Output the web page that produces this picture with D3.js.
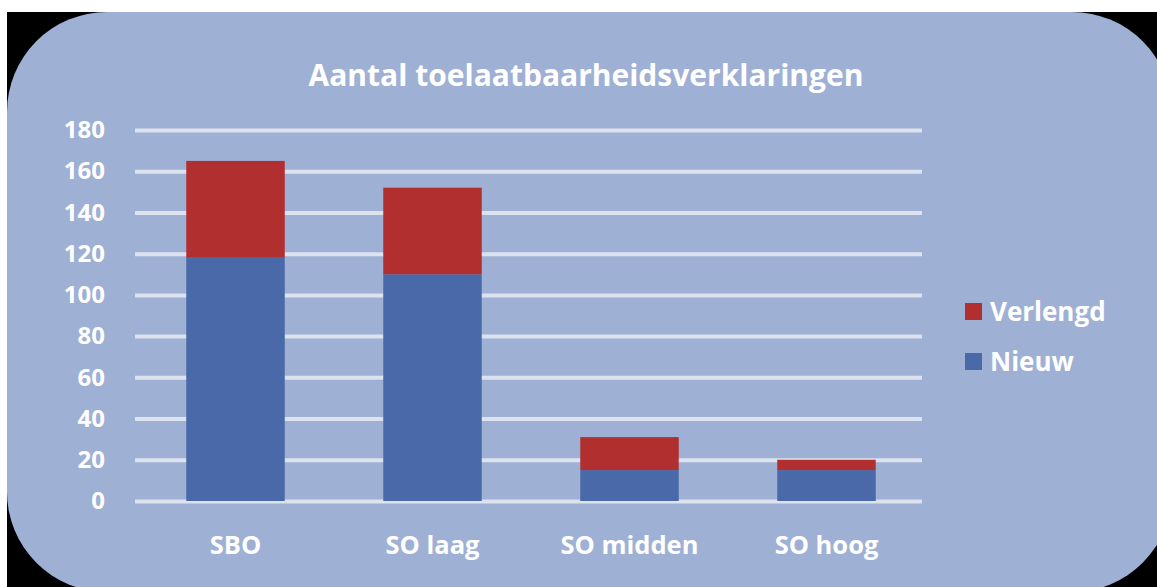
<!DOCTYPE html>
<html><head><meta charset="utf-8">
<script src="https://cdn.jsdelivr.net/npm/d3@7"></script>
<style>html,body{margin:0;padding:0;background:#fff;overflow:hidden}</style>
</head><body>
<svg id="chart" width="1157" height="587"></svg>
<script>
const categories = ["SBO", "SO laag", "SO midden", "SO hoog"];
const nieuw = [118, 110, 15, 15];
const verlengd = [47, 42, 16, 5];
const seriesNames = ["Nieuw", "Verlengd"];
const yTicks = [0, 20, 40, 60, 80, 100, 120, 140, 160, 180];
const title = "Aantal toelaatbaarheidsverklaringen";

const colors = {Nieuw: "#4a69a8", Verlengd: "#b22f30"};
const bg = "#9fb0d5";
const font = "'Open Sans', 'DejaVu Sans', sans-serif";

const svg = d3.select("#chart");
svg.append("rect").attr("x", 7).attr("y", 12).attr("width", 1150).attr("height", 575).attr("fill", "#000");
svg.append("rect").attr("x", 7).attr("y", 12).attr("width", 1165).attr("height", 580)
  .attr("rx", 100).attr("ry", 100).attr("fill", bg);

const x = d3.scaleBand().domain(categories).range([137, 925]).paddingInner(0.5).paddingOuter(0.25);
const y = d3.scaleLinear().domain([0, 180]).range([501, 130]);

// gridlines
const yAxis = d3.axisLeft(y).tickValues(yTicks).tickSize(-(922 - 135)).tickFormat(d => d);
const ga = svg.append("g").attr("transform", "translate(135,0)").call(yAxis);
ga.select(".domain").remove();
ga.selectAll(".tick line").attr("stroke", "#dce2ee").attr("stroke-width", 4);
ga.selectAll(".tick text").attr("x", -30).attr("fill", "#fff")
  .attr("font-family", font).attr("font-weight", "bold").attr("font-size", 24);

const data = categories.map((c, i) => ({cat: c, Nieuw: nieuw[i], Verlengd: verlengd[i]}));
const stack = d3.stack().keys(seriesNames)(data);
svg.append("g").selectAll("g").data(stack).join("g")
  .attr("fill", d => colors[d.key])
  .selectAll("rect").data(d => d).join("rect")
  .attr("x", d => x(d.data.cat)).attr("width", x.bandwidth())
  .attr("y", d => y(d[1])).attr("height", d => y(d[0]) - y(d[1]));

// category labels
const xAxis = d3.axisBottom(x).tickSize(0).tickPadding(0);
const gx = svg.append("g").attr("transform", "translate(0,545)").call(xAxis);
gx.select(".domain").remove();
gx.selectAll(".tick text").attr("dy", "0.35em").attr("fill", "#fff")
  .attr("font-family", font).attr("font-weight", "bold").attr("font-size", 25.5);

svg.append("text").attr("x", 586).attr("y", 75).attr("dy", "0.35em").attr("text-anchor", "middle")
  .attr("fill", "#fff").attr("font-family", font).attr("font-weight", "bold").attr("font-size", 30)
  .text(title);

// legend
const legendOrder = ["Verlengd", "Nieuw"];
const lg = svg.append("g").selectAll("g").data(legendOrder).join("g")
  .attr("transform", (d, i) => `translate(965,${303 + i * 50})`);
lg.append("rect").attr("width", 17).attr("height", 17).attr("fill", d => colors[d]);
lg.append("text").attr("x", 25).attr("y", 9).attr("dy", "0.35em").attr("fill", "#fff")
  .attr("font-family", font).attr("font-weight", "bold").attr("font-size", 26).text(d => d);
</script>
</body></html>
